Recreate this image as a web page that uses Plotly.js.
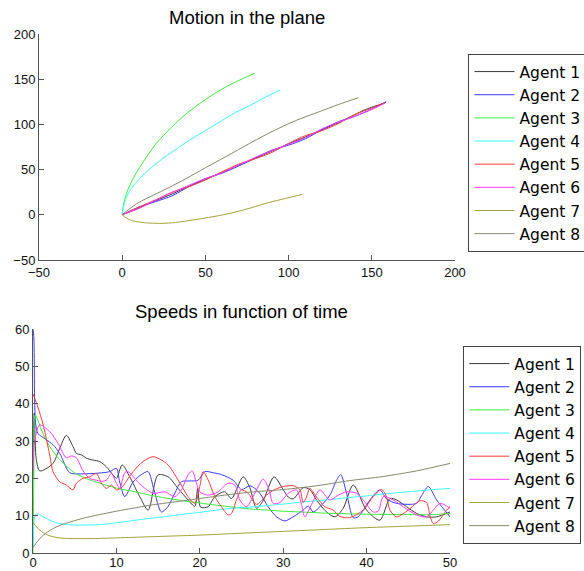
<!DOCTYPE html>
<html>
<head>
<meta charset="utf-8">
<script src="https://cdn.plot.ly/plotly-3.0.1.min.js"></script>
<style>html,body{margin:0;padding:0;background:#fff;}#chart{width:584px;height:571px;}</style>
</head>
<body>
<div id="chart"></div>
<script>
// ---------- Data: Motion in the plane (x, y positions) ----------
const agentNames = ["Agent 1","Agent 2","Agent 3","Agent 4","Agent 5","Agent 6","Agent 7","Agent 8"];
const agentColors = ["#3a3a3a","#3a3aff","#3aee3a","#3affff","#ff3a3a","#ff3aff","#a3a33a","#858a6a"];

const p1x = [0,10,20,30,40,50,60,70,80,90,100,110,120,130,140,145,150,155,158.5];
const p1y = [0,7.5,15.5,23,31.5,39,47,54.5,62.5,70.5,78.5,86,94,102,111,115.5,119,122,124.5];
const p2x = [0,10,20,30,40,50,60,70,80,90,100,110,120,130,140,150,158.7];
const p2y = [0,8.5,14.5,21,31,40,46,54,63,71.5,77,84,94,103,109,117,125];
const p3x = [0,0.3,1,2,3.5,5.5,8,11,15,20,26,32,38,45,52,59,66,73,79.6];
const p3y = [0,6,13,20,28,36,45,54,65,78,90,101,111,121,130,138,145,151,156.5];
const p4x = [0,0.3,1,2,3.5,5.5,8,12,18,25,32,40,48,58,68,78,87,94.8];
const p4y = [0,5,11,17,23,29,35,43,53,63,72,82,91,102,113,122,131,137.8];
const p5x = [0,10,20,30,40,50,60,70,80,90,100,110,120,130,140,150,158];
const p5y = [0,8.5,16.5,25,31,38.5,47.5,56,62,69,79,87.5,93,101,111,118,124];
const p6x = [0,10,20,30,40,50,60,70,80,90,100,110,120,130,140,150,158];
const p6y = [0,7,16,24.5,32.5,40,46.5,55,63.5,71,78,85,95,102.5,109,116.5,123.5];
const p7x = [0,2,6,12,18,24,32,40,50,58,68,78,88,98,108];
const p7y = [0,-3,-6.5,-8.5,-9.3,-9.5,-8.5,-6.5,-3.5,-1,3,8,13.5,18,22.5];
const p8x = [0,4,10,18,28,38,50,62,78,90,104,118,130,142];
const p8y = [0,6,13.7,21,30,39.6,52,64,80.4,92,104,113.7,122,129.5];

// ---------- Data: Speeds in function of time ----------
const t1 = [0,0.15,0.4,0.8,1.5,2.4,3.2,4.0,4.8,5.2,5.8,6.4,7.2,8.0,8.8,9.6,10.0,10.7,11.6,12.8,13.8,15.0,16.2,17.4,18.6,19.4,19.75,20.1,21.0,21.8,23.0,23.8,25.2,26.0,26.8,27.6,28.9,30.0,30.6,31.2,32.4,33.2,34.0,35.2,36.2,37.2,38.4,40.0,41.6,42.8,43.6,44.8,46.0,47.2,48.4,50];
const s1 = [20,37.5,25,22,22.5,24,28,31.5,28.5,26.7,26.3,25.4,24.9,24.5,23.1,20.9,20,23.6,20.4,15.1,11.5,20.9,20.4,17.3,14.2,12.5,17.3,12.3,12.4,15.1,16.4,14.6,20.4,17.5,12,14,20.4,17,15,14.5,17.5,17,14.2,11,9.7,12,18.2,11.5,8.8,14.6,14.2,12.4,10.6,9.7,9.7,11];
const t2 = [0,0.1,0.3,0.6,1.5,2.4,3.2,4.4,5.5,7.2,9.2,10.0,10.4,11.0,12.0,13.0,13.8,14.5,15.4,16.2,17.0,17.8,18.8,19.8,20.6,21.6,22.6,24.0,25.0,26.0,26.6,27.2,28.2,29.2,30.2,31.2,32.4,33.0,33.6,34.4,35.6,36.4,36.9,37.6,38.4,39.0,40.4,41.6,42.4,43.6,46.0,46.5,47.4,48.4,50];
const s2 = [60,58,35,32,30.5,29,26.7,21.5,21.2,21.3,21.8,22.7,19,15.1,19,21,21.8,17,11,12.5,16,19.1,19.3,19.5,21.8,21.5,21,19.5,17,18,17.3,16,12.4,9.7,8.6,9.7,11.5,12.6,11,12.4,15.5,19.5,21,16,9.5,9.7,14.2,16.9,14.5,13.3,13.3,15,17.8,14.2,9.7];
const t3 = [0,0.1,0.25,0.5,1,1.5,2,3,4,5,6,8,10,12,14,16,18,20,22,24,26,28,30,33,36,40,44,48,50];
const s3 = [0,20,37,36,33,30.5,28.5,25.5,23.3,21.5,20.3,18.7,17.4,16.5,15.5,14.7,14,13.4,12.8,12.3,11.8,11.5,11.2,10.9,10.6,10.4,10.3,10.3,10.6];
const t4 = [0,0.15,0.3,0.6,1,2,3,4,6,8,10,12,14,16,18,20,22,24,26,28,30,32,34,36,38,40,42,44,46,48,50];
const s4 = [1.5,9,10.3,10.5,10,8.8,8,7.6,7.5,7.6,8.1,8.7,9.3,9.8,10.4,10.9,11.5,12,12.3,12.7,13.1,13.6,14,14.4,14.9,15.3,15.8,16.2,16.6,17,17.3];
const t5 = [0,0.6,1.2,2.0,2.4,3.2,4.0,4.8,5.2,6.0,6.8,7.6,8.2,8.8,9.4,10.0,10.6,12.0,13.2,14.4,15.4,16.2,17.4,18.6,19.4,20.0,20.4,21.0,21.8,22.6,23.4,23.8,24.4,25.0,25.8,26.8,28.0,29.0,30.0,31.2,32.0,32.4,32.8,33.2,34.0,35.0,36.0,36.8,38.0,39.6,40.8,41.8,42.4,42.8,43.6,45.0,46.4,47.2,47.6,48.0,48.6,49.6,50];
const s5 = [42.6,39,34.5,26.3,21.8,19.1,18.2,16.9,18.7,20,20.4,21.3,18.7,17.3,18.2,16.9,17.5,21.8,24.5,25.8,24.9,23.6,19.6,15.1,13.3,17.8,21.8,19.6,15.1,12.4,10.2,10.6,14.2,16.9,16,13,15.5,17,17.8,18,17,13.5,15,17.3,15,12.4,11.5,9.8,9.5,11.5,15.1,17,15,11.5,9.7,11.5,14,13.5,10,7.9,8.5,11.5,12.4];
const t6 = [0,0.2,0.8,2,3,4,4.6,5.2,6,6.8,7.6,8.2,8.8,9.4,10,10.4,11,11.4,12.8,14.4,15.8,17,17.8,18.6,19.1,19.6,20,21,22.2,23.4,24.2,24.8,25.6,26.8,27.6,28.3,28.8,29.6,30.6,31.6,32.2,32.6,33.4,34.4,35.6,36.6,37.6,38.8,39.6,40.8,41.4,42,43.2,44.4,46,47.2,48,48.8,50];
const s6 = [22,30,34.3,32.5,29.4,25.5,26,25.5,22,20,19.5,19.2,19.5,21.3,18.7,17.3,21.5,21.8,18.5,16,16.4,15.1,16.9,21,22,18.7,16.4,15.5,16.4,18.7,18.2,14.2,12.4,16.9,19.8,17,13.3,13.5,16,16.9,13,9.7,13,16.9,14.2,15.5,16.4,16,14.2,11,11.2,15.1,14.2,12.4,10.2,9.7,11.5,13.3,12];
const t7 = [0,0.5,1,1.5,2,3,4,6,8,12,16,20,25,30,35,40,45,50];
const s7 = [8.2,6.8,5.8,5.1,4.6,4.1,3.9,3.85,3.9,4.2,4.5,4.8,5.3,5.8,6.3,6.8,7.2,7.6];
const t8 = [0,0.5,1,2,3,4,6,8,10,12,14,16,18,20,23,26,30,34,38,42,46,50];
const s8 = [1.5,3,4.3,6,7.2,8,9.3,10.3,11.2,12,12.8,13.4,14,14.6,15.5,16.3,17,18,19.4,20.5,22,24];

const posX = [p1x,p2x,p3x,p4x,p5x,p6x,p7x,p8x];
const posY = [p1y,p2y,p3y,p4y,p5y,p6y,p7y,p8y];
const times = [t1,t2,t3,t4,t5,t6,t7,t8];
const speeds = [s1,s2,s3,s4,s5,s6,s7,s8];

const traces = [];
for (let i = 0; i < 8; i++) {
  traces.push({
    x: posX[i], y: posY[i], type: 'scatter', mode: 'lines',
    name: agentNames[i], legend: 'legend', legendrank: i + 1,
    line: {color: agentColors[i], width: 1, shape: 'spline', smoothing: 0.8},
    xaxis: 'x', yaxis: 'y'
  });
}
for (let i = 0; i < 8; i++) {
  traces.push({
    x: times[i], y: speeds[i], type: 'scatter', mode: 'lines',
    name: agentNames[i], legend: 'legend2', legendrank: i + 1,
    line: {color: agentColors[i], width: 1, shape: 'spline', smoothing: 0.8},
    xaxis: 'x2', yaxis: 'y2'
  });
}

const axisCommon = {
  showline: true, linecolor: '#555', linewidth: 1, mirror: false,
  ticks: 'inside', ticklen: 5, tickcolor: '#555', tickwidth: 1,
  showgrid: false, zeroline: false, fixedrange: true,
  tickfont: {size: 13, color: '#111', family: 'Liberation Sans, Arial, sans-serif'}
};
const legendCommon = {
  xanchor: 'left', yanchor: 'top', bgcolor: '#fff',
  bordercolor: '#444', borderwidth: 1, itemwidth: 40,
  font: {size: 15.5, color: '#000', family: 'DejaVu Sans, Liberation Sans, sans-serif'},
  tracegroupgap: 0
};

const layout = {
  width: 584, height: 571,
  margin: {l: 0, r: 0, t: 0, b: 0, autoexpand: false},
  paper_bgcolor: '#fff', plot_bgcolor: '#fff',
  font: {family: 'Liberation Sans, Arial, sans-serif', color: '#000'},
  showlegend: true,
  xaxis: Object.assign({}, axisCommon, {domain: [0.0668, 0.7791], range: [-50, 200], tickvals: [-50,0,50,100,150,200], anchor: 'y'}),
  yaxis: Object.assign({}, axisCommon, {domain: [0.5447, 0.9405], range: [-50, 200], tickvals: [-50,0,50,100,150,200], anchor: 'x'}),
  xaxis2: Object.assign({}, axisCommon, {domain: [0.0565, 0.7705], range: [0, 50], tickvals: [0,10,20,30,40,50], anchor: 'y2', ticklabelstandoff: -3}),
  yaxis2: Object.assign({}, axisCommon, {domain: [0.0315, 0.4238], range: [0, 60], tickvals: [0,10,20,30,40,50,60], anchor: 'x2'}),
  legend: Object.assign({}, legendCommon, {x: 0.8022, y: 1 - 54/571}),
  legend2: Object.assign({}, legendCommon, {x: 0.7933, y: 1 - 346/571}),
  annotations: [
    {text: 'Motion in the plane', xref: 'paper', yref: 'paper', x: 0.4221, y: 1 - 18/571,
     xanchor: 'center', yanchor: 'middle', showarrow: false, font: {size: 18.5, color: '#000'}},
    {text: 'Speeds in function of time', xref: 'paper', yref: 'paper', x: 0.4135, y: 1 - 312/571,
     xanchor: 'center', yanchor: 'middle', showarrow: false, font: {size: 18.5, color: '#000'}}
  ]
};

Plotly.newPlot('chart', traces, layout, {displayModeBar: false, staticPlot: true});
</script>
</body>
</html>
